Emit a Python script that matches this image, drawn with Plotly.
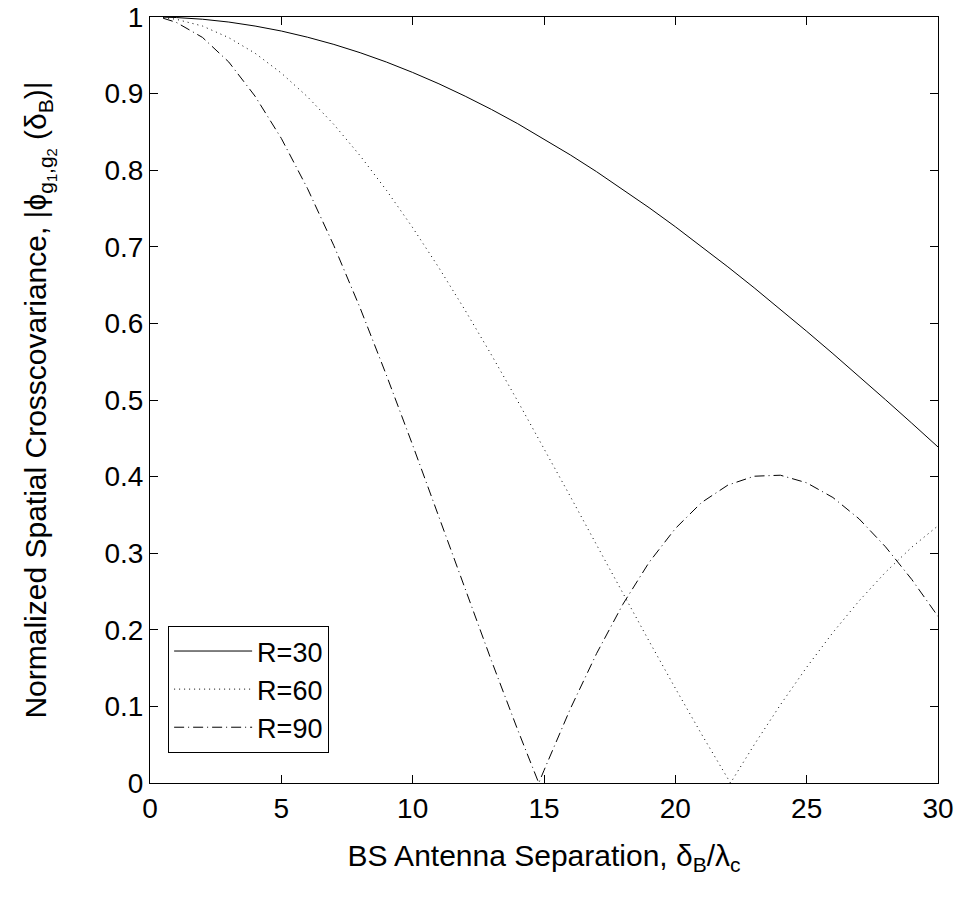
import plotly.graph_objects as go

# Separation values (delta_B / lambda_c)
x_r30 = [0.5, 1, 2, 3, 4, 5, 6, 7, 8, 9, 10, 11, 12, 13, 14, 15, 16, 17, 18, 19, 20,
         21, 22, 23, 24, 25, 26, 27, 28, 29, 30]
y_r30 = [0.9998, 0.9993, 0.9971, 0.9934, 0.9882, 0.9817, 0.9736, 0.9642, 0.9534, 0.9412,
         0.9276, 0.9128, 0.8966, 0.8793, 0.8607, 0.8409, 0.8200, 0.7981, 0.7751, 0.7511,
         0.7262, 0.7004, 0.6738, 0.6465, 0.6184, 0.5897, 0.5605, 0.5307, 0.5004, 0.4698, 0.4387]

x_r60 = [0.5, 1, 2, 3, 4, 5, 6, 7, 8, 9, 10, 11, 12, 13, 14, 15, 16, 17, 18, 19, 20,
         21, 22, 22.1, 23, 24, 25, 26, 27, 28, 29, 30]
y_r60 = [0.9993, 0.9970, 0.9882, 0.9730, 0.9527, 0.9268, 0.8957, 0.8597, 0.8189, 0.7739,
         0.7250, 0.6726, 0.6170, 0.5588, 0.4985, 0.4369, 0.3742, 0.3110, 0.2478, 0.1852,
         0.1237, 0.0636, 0.0057, 0.0, 0.0498, 0.1021, 0.1511, 0.1965, 0.2379, 0.2751,
         0.3078, 0.3358]

x_r90 = [0.5, 1, 2, 3, 4, 5, 6, 7, 8, 9, 10, 11, 12, 13, 14, 14.8, 15, 16, 17, 18, 19, 20,
         21, 22, 23, 24, 25, 26, 27, 28, 29, 30]
y_r90 = [0.9984, 0.9930, 0.9733, 0.9412, 0.8966, 0.8415, 0.7758, 0.7015, 0.6201, 0.5325,
         0.4411, 0.3473, 0.2529, 0.1596, 0.0693, 0.0, 0.0165, 0.0967, 0.1689, 0.2332,
         0.2880, 0.3322, 0.3662, 0.3889, 0.4005, 0.4018, 0.3919, 0.3727, 0.3447, 0.3084,
         0.2658, 0.2175]

names = ["R=30", "R=60", "R=90"]
x_ticks = [0, 5, 10, 15, 20, 25, 30]
y_ticks = [0, 0.1, 0.2, 0.3, 0.4, 0.5, 0.6, 0.7, 0.8, 0.9, 1]
y_tick_text = ["0", "0.1", "0.2", "0.3", "0.4", "0.5", "0.6", "0.7", "0.8", "0.9", "1"]

FONT = "Liberation Sans, Arial, Helvetica, sans-serif"
FS = 28
FS_TITLE = 30

fig = go.Figure()
fig.add_trace(go.Scatter(x=x_r30, y=y_r30, mode="lines", name=names[0],
                         line=dict(color="black", width=1, dash="solid")))
fig.add_trace(go.Scatter(x=x_r60, y=y_r60, mode="lines", name=names[1],
                         line=dict(color="black", width=1, dash="1px,4px")))
fig.add_trace(go.Scatter(x=x_r90, y=y_r90, mode="lines", name=names[2],
                         line=dict(color="black", width=1, dash="10px,4px,1px,4px")))

axis_common = dict(showline=True, linecolor="black", linewidth=1, mirror="ticks",
                   ticks="inside", ticklen=8, tickcolor="black", showgrid=False,
                   zeroline=False, automargin=False,
                   tickfont=dict(family=FONT, size=FS, color="black"))

fig.update_xaxes(range=[0, 30], tickvals=x_ticks,
                 title=dict(text="BS Antenna Separation, δ<sub>B</sub>/λ<sub>c</sub>",
                            font=dict(family=FONT, size=FS_TITLE, color="black"), standoff=22),
                 **axis_common)
fig.update_yaxes(range=[0, 1], tickvals=y_ticks, ticktext=y_tick_text,
                 title=dict(text="Normalized Spatial Crosscovariance, |ϕ<sub>g<sub>1</sub>,g<sub>2</sub></sub> (δ<sub>B</sub>)|",
                            font=dict(family=FONT, size=FS_TITLE, color="black"), standoff=48),
                 **axis_common)

fig.update_layout(
    width=961, height=921,
    margin=dict(l=150, r=23, t=17, b=138),
    paper_bgcolor="white", plot_bgcolor="white",
    font=dict(family=FONT, size=FS, color="black"),
    showlegend=True,
    legend=dict(x=0.023, y=0.205, xanchor="left", yanchor="top",
                bgcolor="white", bordercolor="black", borderwidth=1,
                font=dict(family=FONT, size=27, color="black"),
                itemwidth=78, tracegroupgap=0),
)

fig.write_html("out.html")
